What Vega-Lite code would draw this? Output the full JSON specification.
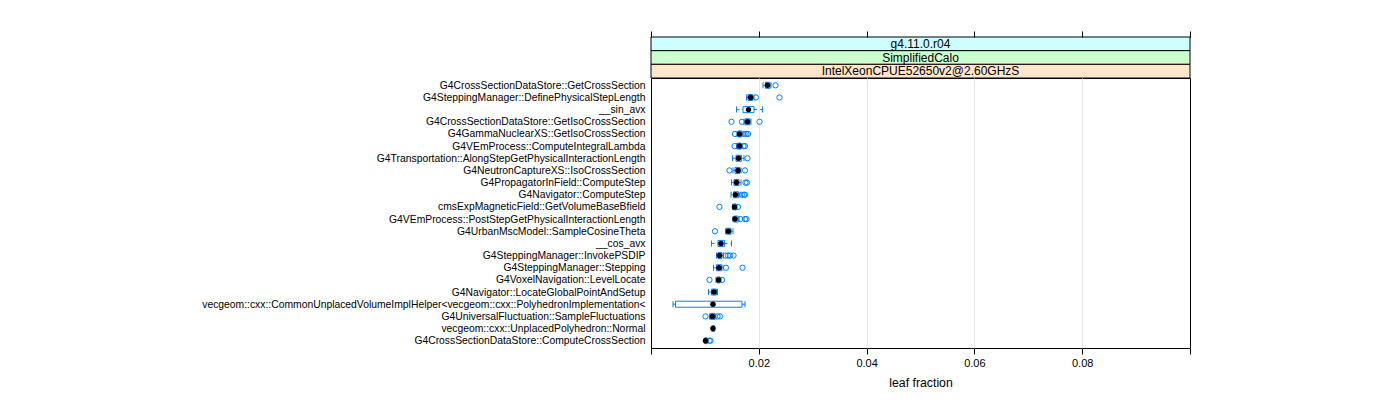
{
  "$schema": "https://vega.github.io/schema/vega-lite/v6.json",
  "background": "white",
  "padding": {"left": 201, "top": 30, "right": 5, "bottom": 5},
  "config": {"font": "Liberation Sans", "view": {"stroke": null}},
  "bounds": "flush",
  "spacing": 0,
  "datasets": {
    "strips": [
      {"label": "g4.11.0.r04"},
      {"label": "SimplifiedCalo"},
      {"label": "IntelXeonCPUE52650v2@2.60GHzS"}
    ],
    "stats": [
      {"name": "G4CrossSectionDataStore::GetCrossSection", "wlo": 0.02078, "q1": 0.02124, "med": 0.02161, "q3": 0.02208, "whi": 0.02226},
      {"name": "G4SteppingManager::DefinePhysicalStepLength", "wlo": 0.01771, "q1": 0.01799, "med": 0.01846, "q3": 0.01883, "whi": 0.01911},
      {"name": "__sin_avx", "wlo": 0.01586, "q1": 0.01707, "med": 0.01809, "q3": 0.01911, "whi": 0.02069},
      {"name": "G4CrossSectionDataStore::GetIsoCrossSection", "wlo": 0.01725, "q1": 0.01744, "med": 0.0179, "q3": 0.01837, "whi": 0.01855},
      {"name": "G4GammaNuclearXS::GetIsoCrossSection", "wlo": 0.01595, "q1": 0.01614, "med": 0.01642, "q3": 0.01688, "whi": 0.01707},
      {"name": "G4VEmProcess::ComputeIntegralLambda", "wlo": 0.01586, "q1": 0.01605, "med": 0.01642, "q3": 0.0167, "whi": 0.01688},
      {"name": "G4Transportation::AlongStepGetPhysicalInteractionLength", "wlo": 0.01512, "q1": 0.01577, "med": 0.01623, "q3": 0.01679, "whi": 0.01725},
      {"name": "G4NeutronCaptureXS::IsoCrossSection", "wlo": 0.01521, "q1": 0.01558, "med": 0.01614, "q3": 0.01651, "whi": 0.0167},
      {"name": "G4PropagatorInField::ComputeStep", "wlo": 0.01494, "q1": 0.0154, "med": 0.01586, "q3": 0.01633, "whi": 0.0167},
      {"name": "G4Navigator::ComputeStep", "wlo": 0.01484, "q1": 0.01531, "med": 0.01568, "q3": 0.01623, "whi": 0.01651},
      {"name": "cmsExpMagneticField::GetVolumeBaseBfield", "wlo": 0.01512, "q1": 0.01531, "med": 0.01549, "q3": 0.01577, "whi": 0.01595},
      {"name": "G4VEmProcess::PostStepGetPhysicalInteractionLength", "wlo": 0.01521, "q1": 0.0154, "med": 0.01558, "q3": 0.01614, "whi": 0.01633},
      {"name": "G4UrbanMscModel::SampleCosineTheta", "wlo": 0.01382, "q1": 0.01401, "med": 0.01438, "q3": 0.01484, "whi": 0.01521},
      {"name": "__cos_avx", "wlo": 0.01122, "q1": 0.01243, "med": 0.01299, "q3": 0.01364, "whi": 0.01494},
      {"name": "G4SteppingManager::InvokePSDIP", "wlo": 0.01215, "q1": 0.01243, "med": 0.01271, "q3": 0.01317, "whi": 0.01345},
      {"name": "G4SteppingManager::Stepping", "wlo": 0.0116, "q1": 0.01215, "med": 0.01262, "q3": 0.01308, "whi": 0.01336},
      {"name": "G4VoxelNavigation::LevelLocate", "wlo": 0.01206, "q1": 0.01224, "med": 0.01252, "q3": 0.0128, "whi": 0.01299},
      {"name": "G4Navigator::LocateGlobalPointAndSetup", "wlo": 0.01067, "q1": 0.01122, "med": 0.01169, "q3": 0.01215, "whi": 0.01234},
      {"name": "vecgeom::cxx::CommonUnplacedVolumeImplHelper<vecgeom::cxx::PolyhedronImplementation<", "wlo": 0.00408, "q1": 0.00455, "med": 0.0115, "q3": 0.01688, "whi": 0.01744},
      {"name": "G4UniversalFluctuation::SampleFluctuations", "wlo": 0.01085, "q1": 0.01104, "med": 0.01141, "q3": 0.01187, "whi": 0.01206},
      {"name": "vecgeom::cxx::UnplacedPolyhedron::Normal", "wlo": 0.01132, "q1": 0.01141, "med": 0.0115, "q3": 0.01169, "whi": 0.01178},
      {"name": "G4CrossSectionDataStore::ComputeCrossSection", "wlo": 0.00993, "q1": 0.01002, "med": 0.01011, "q3": 0.01039, "whi": 0.01058}
    ],
    "outliers": [
      {"name": "G4CrossSectionDataStore::GetCrossSection", "value": 0.0231},
      {"name": "G4SteppingManager::DefinePhysicalStepLength", "value": 0.01948},
      {"name": "G4SteppingManager::DefinePhysicalStepLength", "value": 0.02384},
      {"name": "G4CrossSectionDataStore::GetIsoCrossSection", "value": 0.01494},
      {"name": "G4CrossSectionDataStore::GetIsoCrossSection", "value": 0.01688},
      {"name": "G4CrossSectionDataStore::GetIsoCrossSection", "value": 0.02013},
      {"name": "G4GammaNuclearXS::GetIsoCrossSection", "value": 0.01558},
      {"name": "G4GammaNuclearXS::GetIsoCrossSection", "value": 0.01735},
      {"name": "G4GammaNuclearXS::GetIsoCrossSection", "value": 0.01772},
      {"name": "G4GammaNuclearXS::GetIsoCrossSection", "value": 0.018},
      {"name": "G4VEmProcess::ComputeIntegralLambda", "value": 0.01549},
      {"name": "G4VEmProcess::ComputeIntegralLambda", "value": 0.01716},
      {"name": "G4VEmProcess::ComputeIntegralLambda", "value": 0.01744},
      {"name": "G4Transportation::AlongStepGetPhysicalInteractionLength", "value": 0.0179},
      {"name": "G4NeutronCaptureXS::IsoCrossSection", "value": 0.01456},
      {"name": "G4NeutronCaptureXS::IsoCrossSection", "value": 0.01744},
      {"name": "G4PropagatorInField::ComputeStep", "value": 0.01753},
      {"name": "G4PropagatorInField::ComputeStep", "value": 0.01781},
      {"name": "G4Navigator::ComputeStep", "value": 0.01688},
      {"name": "G4Navigator::ComputeStep", "value": 0.01725},
      {"name": "G4Navigator::ComputeStep", "value": 0.01744},
      {"name": "cmsExpMagneticField::GetVolumeBaseBfield", "value": 0.01271},
      {"name": "cmsExpMagneticField::GetVolumeBaseBfield", "value": 0.01614},
      {"name": "G4VEmProcess::PostStepGetPhysicalInteractionLength", "value": 0.0166},
      {"name": "G4VEmProcess::PostStepGetPhysicalInteractionLength", "value": 0.01744},
      {"name": "G4VEmProcess::PostStepGetPhysicalInteractionLength", "value": 0.01772},
      {"name": "G4UrbanMscModel::SampleCosineTheta", "value": 0.01187},
      {"name": "G4SteppingManager::InvokePSDIP", "value": 0.01382},
      {"name": "G4SteppingManager::InvokePSDIP", "value": 0.01429},
      {"name": "G4SteppingManager::InvokePSDIP", "value": 0.01466},
      {"name": "G4SteppingManager::InvokePSDIP", "value": 0.01531},
      {"name": "G4SteppingManager::Stepping", "value": 0.01391},
      {"name": "G4SteppingManager::Stepping", "value": 0.01698},
      {"name": "G4VoxelNavigation::LevelLocate", "value": 0.01085},
      {"name": "G4VoxelNavigation::LevelLocate", "value": 0.01317},
      {"name": "G4UniversalFluctuation::SampleFluctuations", "value": 0.01011},
      {"name": "G4UniversalFluctuation::SampleFluctuations", "value": 0.01234},
      {"name": "G4UniversalFluctuation::SampleFluctuations", "value": 0.0128},
      {"name": "G4CrossSectionDataStore::ComputeCrossSection", "value": 0.01085},
      {"name": "G4CrossSectionDataStore::ComputeCrossSection", "value": 0.01104}
    ]
  },
  "vconcat": [
    {
      "width": 539,
      "height": 41,
      "data": {"name": "strips"},
      "encoding": {
        "y": {
          "field": "label",
          "type": "nominal",
          "scale": {"domain": ["g4.11.0.r04", "SimplifiedCalo", "IntelXeonCPUE52650v2@2.60GHzS"], "paddingInner": 0, "paddingOuter": 0},
          "axis": null
        }
      },
      "layer": [
        {
          "mark": {"type": "rect", "stroke": "black", "strokeWidth": 1},
          "encoding": {
            "fill": {
              "field": "label",
              "type": "nominal",
              "scale": {"domain": ["g4.11.0.r04", "SimplifiedCalo", "IntelXeonCPUE52650v2@2.60GHzS"], "range": ["#ccffff", "#ccffcc", "#ffe5cc"]},
              "legend": null
            }
          }
        },
        {
          "mark": {"type": "text", "font": "Liberation Sans", "fontSize": 12, "color": "black"},
          "encoding": {"text": {"field": "label", "type": "nominal"}}
        }
      ]
    },
    {
      "width": 539,
      "height": 270,
      "view": {"stroke": "black", "strokeWidth": 1},
      "encoding": {
        "y": {
          "field": "name",
          "type": "nominal",
          "title": null,
          "scale": {
            "type": "point",
            "padding": 0.6,
            "domain": [
              "G4CrossSectionDataStore::GetCrossSection",
              "G4SteppingManager::DefinePhysicalStepLength",
              "__sin_avx",
              "G4CrossSectionDataStore::GetIsoCrossSection",
              "G4GammaNuclearXS::GetIsoCrossSection",
              "G4VEmProcess::ComputeIntegralLambda",
              "G4Transportation::AlongStepGetPhysicalInteractionLength",
              "G4NeutronCaptureXS::IsoCrossSection",
              "G4PropagatorInField::ComputeStep",
              "G4Navigator::ComputeStep",
              "cmsExpMagneticField::GetVolumeBaseBfield",
              "G4VEmProcess::PostStepGetPhysicalInteractionLength",
              "G4UrbanMscModel::SampleCosineTheta",
              "__cos_avx",
              "G4SteppingManager::InvokePSDIP",
              "G4SteppingManager::Stepping",
              "G4VoxelNavigation::LevelLocate",
              "G4Navigator::LocateGlobalPointAndSetup",
              "vecgeom::cxx::CommonUnplacedVolumeImplHelper<vecgeom::cxx::PolyhedronImplementation<",
              "G4UniversalFluctuation::SampleFluctuations",
              "vecgeom::cxx::UnplacedPolyhedron::Normal",
              "G4CrossSectionDataStore::ComputeCrossSection"
            ]
          },
          "axis": {
            "domain": false,
            "ticks": false,
            "grid": false,
            "labelFont": "Liberation Sans",
            "labelFontSize": 10.35,
            "labelColor": "black",
            "labelPadding": 6,
            "labelLimit": 0
          }
        }
      },
      "layer": [
        {
          "data": {"name": "stats"},
          "mark": {"type": "rule", "color": "#0080ff", "strokeWidth": 1, "strokeDash": [3, 3]},
          "encoding": {
            "x": {
              "field": "wlo",
              "type": "quantitative",
              "scale": {"domain": [0, 0.1], "nice": false, "zero": false},
              "axis": {
                "orient": "bottom",
                "values": [0, 0.02, 0.04, 0.06, 0.08, 0.1],
                "labelExpr": "datum.value < 0.001 || datum.value > 0.099 ? '' : format(datum.value, '.2f')",
                "domain": false,
                "grid": true,
                "gridColor": "#e6e6e6",
                "gridOpacity": {"condition": {"test": "datum.value < 0.001 || datum.value > 0.099", "value": 0}, "value": 1},
                "tickSize": 6,
                "tickColor": "black",
                "labelFont": "Liberation Sans",
                "labelFontSize": 11,
                "labelColor": "black",
                "labelPadding": 3,
                "title": "leaf fraction",
                "titleFont": "Liberation Sans",
                "titleFontSize": 12.3,
                "titleFontWeight": "normal",
                "titleColor": "black",
                "titlePadding": 8
              }
            },
            "x2": {"field": "q1"}
          }
        },
        {
          "data": {"name": "stats"},
          "mark": {"type": "rule", "color": "#0080ff", "strokeWidth": 1, "strokeDash": [3, 3]},
          "encoding": {
            "x": {"field": "q3", "type": "quantitative", "axis": null},
            "x2": {"field": "whi"}
          }
        },
        {
          "data": {"name": "stats"},
          "mark": {"type": "tick", "color": "#0080ff", "size": 6, "thickness": 1, "opacity": 1},
          "encoding": {"x": {"field": "wlo", "type": "quantitative", "axis": null}}
        },
        {
          "data": {"name": "stats"},
          "mark": {"type": "tick", "color": "#0080ff", "size": 6, "thickness": 1, "opacity": 1},
          "encoding": {"x": {"field": "whi", "type": "quantitative", "axis": null}}
        },
        {
          "data": {"name": "stats"},
          "mark": {"type": "bar", "filled": false, "color": "#0080ff", "strokeWidth": 1, "height": 6},
          "encoding": {
            "x": {"field": "q1", "type": "quantitative", "axis": null},
            "x2": {"field": "q3"}
          }
        },
        {
          "data": {"name": "outliers"},
          "mark": {"type": "point", "filled": false, "color": "#0080ff", "size": 28, "strokeWidth": 1, "opacity": 1},
          "encoding": {"x": {"field": "value", "type": "quantitative", "axis": null}}
        },
        {
          "data": {"name": "stats"},
          "mark": {"type": "circle", "color": "black", "size": 30, "opacity": 1},
          "encoding": {
            "x": {
              "field": "med",
              "type": "quantitative",
              "axis": {
                "orient": "top",
                "values": [0, 0.02, 0.04, 0.06, 0.08, 0.1],
                "labels": false,
                "domain": false,
                "grid": false,
                "offset": 41,
                "tickSize": 6,
                "tickColor": "black",
                "title": null
              }
            }
          }
        }
      ]
    }
  ]
}
